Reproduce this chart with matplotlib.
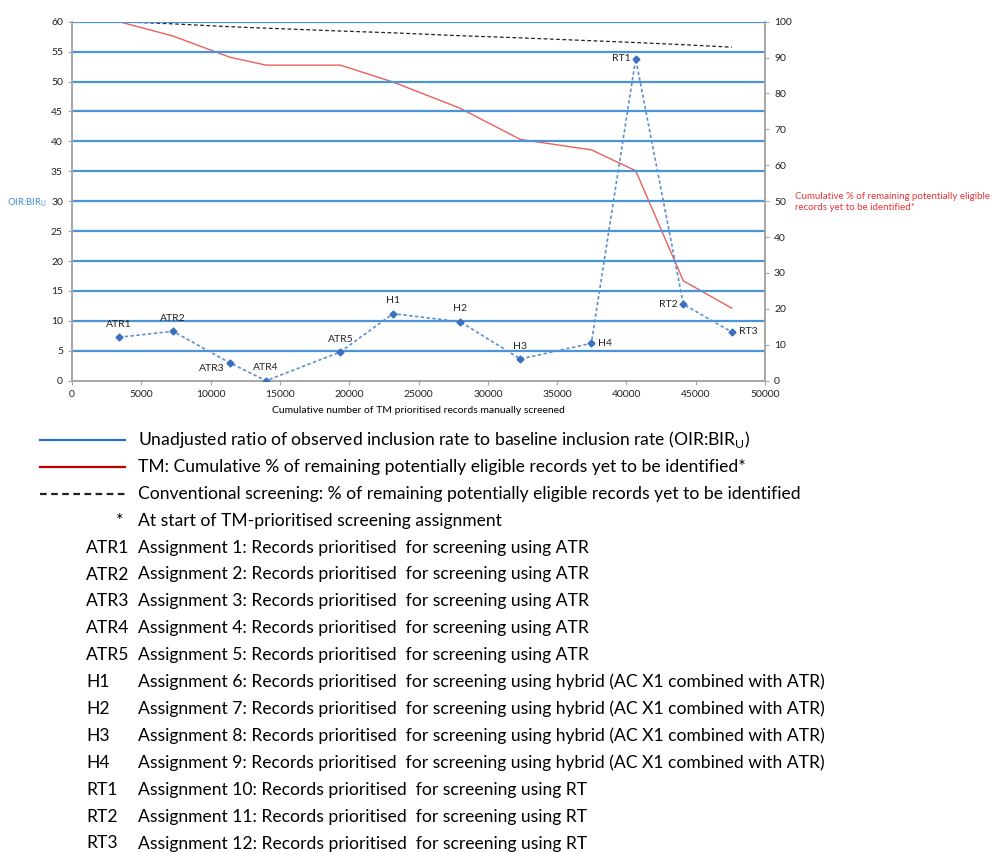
import matplotlib
matplotlib.use("Agg")
from matplotlib import pyplot as plt
from matplotlib.lines import Line2D

# assignment codes and screening progress
codes = ["ATR1", "ATR2", "ATR3", "ATR4", "ATR5", "H1", "H2", "H3", "H4", "RT1", "RT2", "RT3"]
cum_records = [3390, 7290, 11400, 14000, 19360, 23160, 28000, 32350, 37470, 40670, 44110, 47600]
oir_bir = [7.25, 8.26, 2.96, 0.0, 4.8, 11.2, 9.86, 3.63, 6.25, 53.8, 12.77, 8.14]
tm_remaining = [100, 96.0, 90.1, 87.9, 87.9, 83.2, 75.9, 67.2, 64.3, 58.5, 27.8, 20.2]
conv_remaining = [100, 99.4, 98.6, 98.2, 97.4, 96.9, 96.1, 95.5, 94.7, 94.2, 93.6, 92.9]

descriptions = [
    "Assignment 1: Records prioritised  for screening using ATR",
    "Assignment 2: Records prioritised  for screening using ATR",
    "Assignment 3: Records prioritised  for screening using ATR",
    "Assignment 4: Records prioritised  for screening using ATR",
    "Assignment 5: Records prioritised  for screening using ATR",
    "Assignment 6: Records prioritised  for screening using hybrid (AC X1 combined with ATR)",
    "Assignment 7: Records prioritised  for screening using hybrid (AC X1 combined with ATR)",
    "Assignment 8: Records prioritised  for screening using hybrid (AC X1 combined with ATR)",
    "Assignment 9: Records prioritised  for screening using hybrid (AC X1 combined with ATR)",
    "Assignment 10: Records prioritised  for screening using RT",
    "Assignment 11: Records prioritised  for screening using RT",
    "Assignment 12: Records prioritised  for screening using RT",
]

# label offsets (points) for each point label
label_offsets = {
    "ATR1": (0, 6, "center"), "ATR2": (0, 6, "center"), "ATR3": (-4, -4, "right"),
    "ATR4": (0, 6, "center"), "ATR5": (0, 6, "center"), "H1": (0, 6, "center"),
    "H2": (0, 6, "center"), "H3": (0, 6, "center"), "H4": (5, 0, "left"),
    "RT1": (-4, 0, "right"), "RT2": (-4, 0, "right"), "RT3": (5, 0, "left"),
}

plt.rcParams["font.family"] = ["Lato", "DejaVu Sans"]

W, H = 992, 852
fig = plt.figure(figsize=(W / 100, H / 100), dpi=100)
ax = fig.add_axes([72 / W, 1 - 380.7 / H, (765 - 72) / W, (380.7 - 21.7) / H])
ax2 = ax.twinx()

grid_c = "#4a94d8"
axis_c = "#a6a6a6"

ax.set_xlim(0, 50000)
ax.set_ylim(0, 60)
ax.set_xticks(range(0, 50001, 5000))
ax.set_yticks(range(0, 61, 5))
for y in range(5, 61, 5):
    ax.axhline(y, color=grid_c, lw=1.6, zorder=1)

ax.plot(cum_records, oir_bir, color="#5b8fd0", ls=(0, (2, 1.5)), lw=1.2,
        marker="D", ms=3.5, mfc="#3d6fc0", mec="#3d6fc0", zorder=3)
for c, x, y in zip(codes, cum_records, oir_bir):
    dx, dy, ha = label_offsets[c]
    ax.annotate(c, (x, y), xytext=(dx, dy), textcoords="offset points",
                ha=ha, va="bottom" if dy > 0 else "center", fontsize=7.5, color="#222222")

ax2.set_ylim(0, 100)
ax2.set_yticks(range(0, 101, 10))
ax2.plot(cum_records, tm_remaining, color="#e8615c", lw=1.0, zorder=2)
ax2.plot(cum_records, conv_remaining, color="#222222", lw=0.9, ls=(0, (3, 2)), zorder=2)

for a in (ax, ax2):
    a.spines["top"].set_visible(False)
    for s in ("left", "right", "bottom"):
        a.spines[s].set_color(axis_c)
        a.spines[s].set_linewidth(1.2)
    a.tick_params(labelsize=7.5, length=3, colors="#222222")
    a.tick_params(axis="both", color=axis_c)
ax.set_zorder(ax2.get_zorder() + 1)
ax.patch.set_visible(False)

ax.set_xlabel("Cumulative number of TM prioritised records manually screened", fontsize=7.5, labelpad=5)
fig.text(7 / W, 1 - 203 / H, "OIR:BIR$_\\mathregular{U}$", color="#3b8ed6", fontsize=6.8,
         ha="left", va="center")
fig.text(795 / W, 1 - 202 / H,
         "Cumulative % of remaining potentially eligible\nrecords yet to be identified*",
         color="#e8333a", fontsize=7, ha="left", va="center", linespacing=1.3)

# key below the chart
row_y = [440 + 26.9 * i for i in range(16)]
key_fs = 12.6
for y, col, ls in zip(row_y[:3], ["#2a72cc", "#c00000", "#222222"], ["-", "-", (0, (3, 2))]):
    fig.add_artist(Line2D([40 / W, 125 / W], [1 - y / H, 1 - y / H], color=col, lw=1.6, ls=ls))
top_rows = [
    "Unadjusted ratio of observed inclusion rate to baseline inclusion rate (OIR:BIR$_\\mathregular{U}$)",
    "TM: Cumulative % of remaining potentially eligible records yet to be identified*",
    "Conventional screening: % of remaining potentially eligible records yet to be identified",
    "At start of TM-prioritised screening assignment",
]
for y, t in zip(row_y[:4], top_rows):
    fig.text(138 / W, 1 - y / H, t, fontsize=key_fs, ha="left", va="center")
fig.text(123 / W, 1 - row_y[3] / H, "*", fontsize=key_fs, ha="right", va="center")
for y, c, d in zip(row_y[4:], codes, descriptions):
    fig.text(86 / W, 1 - y / H, c, fontsize=key_fs, ha="left", va="center")
    fig.text(138 / W, 1 - y / H, d, fontsize=key_fs, ha="left", va="center")

fig.savefig("out.png", dpi=100)
